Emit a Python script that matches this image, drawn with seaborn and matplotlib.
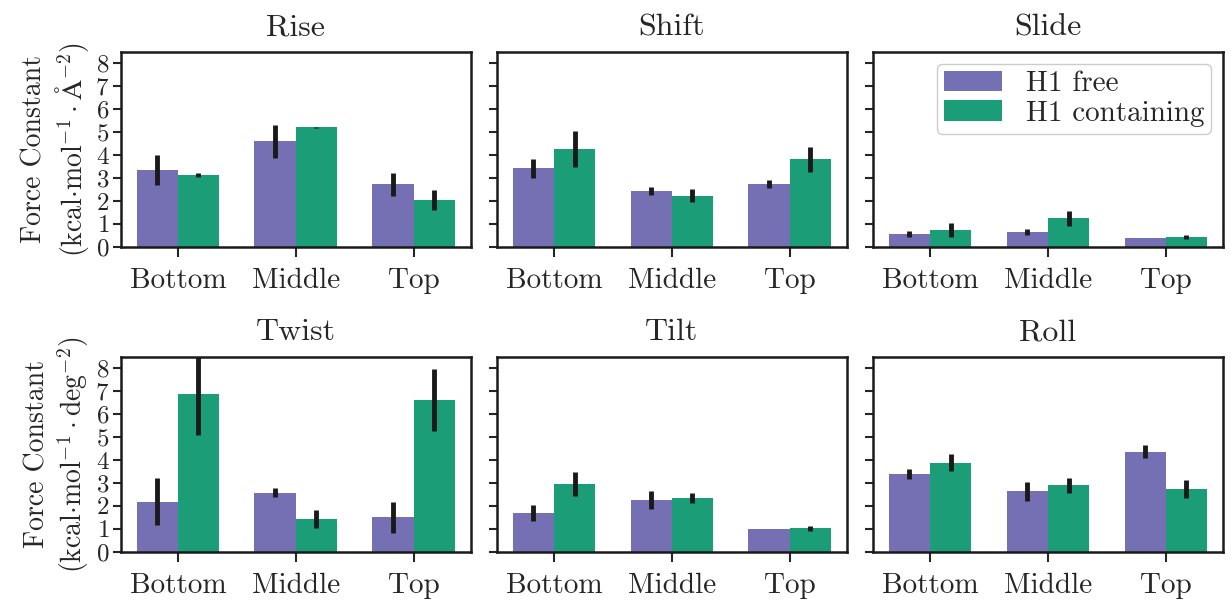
import numpy as np
import pandas as pd
import matplotlib
matplotlib.use("Agg")
import matplotlib.pyplot as plt
import seaborn as sns

# values
positions = ["Bottom", "Middle", "Top"]
systems = ["H1 free", "H1 containing"]
params = ["Rise", "Shift", "Slide", "Twist", "Tilt", "Roll"]

# rows follow params, columns follow positions
free_mean = np.array([
    [3.35, 4.61, 2.72],
    [3.42, 2.42, 2.75],
    [0.57, 0.65, 0.38],
    [2.18, 2.58, 1.50],
    [1.68, 2.26, 0.98],
    [3.37, 2.63, 4.37],
])
cont_mean = np.array([
    [3.13, 5.21, 2.04],
    [4.26, 2.23, 3.81],
    [0.73, 1.24, 0.44],
    [6.86, 1.42, 6.63],
    [2.95, 2.34, 1.02],
    [3.87, 2.89, 2.74],
])
# half-widths of the error bars
free_err = np.array([
    [0.66, 0.72, 0.49],
    [0.40, 0.18, 0.17],
    [0.12, 0.12, 0.01],
    [1.02, 0.21, 0.67],
    [0.36, 0.40, 0.01],
    [0.22, 0.43, 0.28],
])
cont_err = np.array([
    [0.07, 0.02, 0.45],
    [0.77, 0.28, 0.54],
    [0.32, 0.34, 0.09],
    [1.75, 0.38, 1.35],
    [0.54, 0.23, 0.11],
    [0.37, 0.33, 0.39],
])

ylabel_top = "Force Constant\n(kcal$\\cdot$mol$^{-1}\\cdot\\mathrm{\\AA}^{-2}$)"
ylabel_bot = "Force Constant\n(kcal$\\cdot$mol$^{-1}\\cdot$deg$^{-2}$)"

sns.set_style("ticks")
plt.rcParams["font.family"] = ["cmr10", "DejaVu Serif"]
plt.rcParams["mathtext.fontset"] = "cm"
plt.rcParams["axes.formatter.use_mathtext"] = True
plt.rcParams["axes.unicode_minus"] = False

dark2 = sns.color_palette("Dark2")
colors = [dark2[2], dark2[0]]

fig, axes = plt.subplots(2, 3, sharey="row", figsize=(12.31, 6.03), dpi=100)
fig.subplots_adjust(left=0.098, right=0.9935, top=0.914, bottom=0.085,
                    hspace=0.564, wspace=0.074)

for i, (ax, name) in enumerate(zip(axes.flat, params)):
    df = pd.DataFrame({
        "position": positions * 2,
        "system": [systems[0]] * 3 + [systems[1]] * 3,
        "value": np.concatenate([free_mean[i], cont_mean[i]]),
    })
    sns.barplot(data=df, x="position", y="value", hue="system",
                hue_order=systems, order=positions, palette=colors,
                saturation=1, width=0.7, errorbar=None, ax=ax,
                linewidth=0)
    errs = [free_err[i], cont_err[i]]
    for cont, err in zip(ax.containers, errs):
        xs = [p.get_x() + p.get_width() / 2 for p in cont.patches]
        hs = [p.get_height() for p in cont.patches]
        ax.errorbar(xs, hs, yerr=err, fmt="none", ecolor="#1a1a1a",
                    elinewidth=3.5, capsize=0)

    ax.set_title(name, fontsize=23, pad=12)
    ax.set_xlabel("")
    ax.set_ylabel("")
    ax.set_ylim(0, 8.5)
    ax.set_yticks(range(9))
    ax.tick_params(axis="x", labelsize=21, length=7, width=1.5, pad=8)
    ax.tick_params(axis="y", labelsize=18, length=6, width=1.5, pad=2)
    for sp in ax.spines.values():
        sp.set_linewidth(1.8)
        sp.set_color("#1a1a1a")

    if name == "Slide":
        ax.legend(title=None, loc="upper right", fontsize=21,
                  handlelength=2.0, framealpha=1, edgecolor="#cccccc",
                  borderpad=0.25, labelspacing=0.1, handletextpad=0.8,
                  borderaxespad=0.4)
    else:
        ax.get_legend().remove()

axes[0, 0].set_ylabel(ylabel_top, fontsize=20, labelpad=3)
axes[1, 0].set_ylabel(ylabel_bot, fontsize=20, labelpad=3)

fig.savefig("out.png", dpi=100)
